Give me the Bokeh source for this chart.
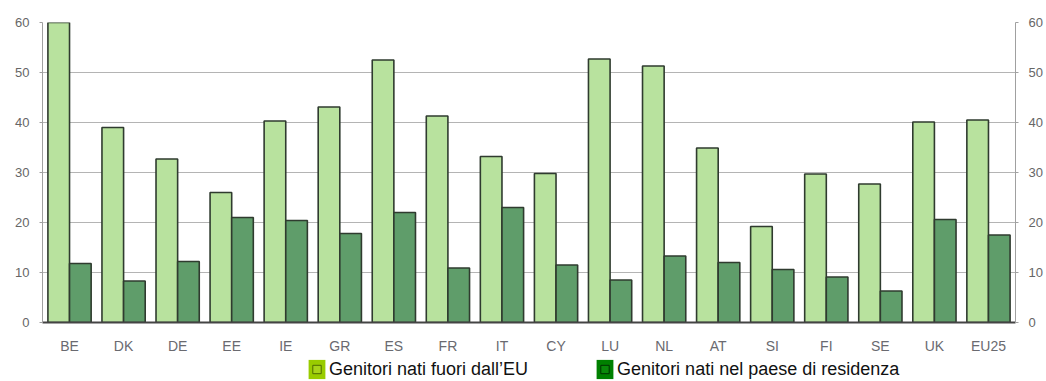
from bokeh.plotting import figure
from bokeh.layouts import column
from bokeh.models import (ColumnDataSource, FactorRange, LinearAxis, FixedTicker,
                          Legend, LegendItem, Range1d)
from bokeh.transform import dodge
from bokeh.embed import file_html
from bokeh.resources import INLINE

countries = ["BE", "DK", "DE", "EE", "IE", "GR", "ES", "FR", "IT", "CY",
             "LU", "NL", "AT", "SI", "FI", "SE", "UK", "EU25"]
fuori_eu = [60, 39, 32.7, 26, 40.3, 43.1, 52.5, 41.3, 33.2, 29.8,
            52.7, 51.3, 34.9, 19.2, 29.7, 27.7, 40.1, 40.5]
paese_res = [11.8, 8.3, 12.2, 21, 20.4, 17.8, 22, 10.9, 23, 11.5,
             8.5, 13.3, 12, 10.6, 9.1, 6.3, 20.6, 17.5]
y_ticks = [0, 10, 20, 30, 40, 50, 60]
legend_labels = ["Genitori nati fuori dall\u2019EU", "Genitori nati nel paese di residenza"]

src = ColumnDataSource(dict(country=countries, fuori=fuori_eu, paese=paese_res))

p = figure(width=1046, height=357, x_range=FactorRange(*countries),
           y_range=Range1d(0, 60), output_backend="svg", toolbar_location=None,
           min_border_left=42, min_border_right=31, min_border_top=22,
           min_border_bottom=35)
p.outline_line_color = None
p.background_fill_color = "white"
p.border_fill_color = "white"

bar_line = "#2f3b2f"
p.vbar(x=dodge("country", -0.2, range=p.x_range), top="fuori", width=0.4,
       source=src, fill_color="#b8e29e", line_color=bar_line, line_width=1.6)
p.vbar(x=dodge("country", 0.2, range=p.x_range), top="paese", width=0.4,
       source=src, fill_color="#5f9d6a", line_color=bar_line, line_width=1.6)

# axes
p.xaxis.axis_line_color = "#444444"
p.xaxis.axis_line_width = 2
p.xaxis.major_tick_line_color = None
p.xaxis.major_tick_out = 0
p.xaxis.major_label_standoff = 15
p.xaxis.major_label_text_font = "Liberation Sans"
p.xaxis.major_label_text_font_size = "14px"
p.xaxis.major_label_text_color = "#6a6a70"

p.yaxis.ticker = FixedTicker(ticks=y_ticks)
right = LinearAxis(ticker=FixedTicker(ticks=y_ticks))
p.add_layout(right, "right")
for ax in (p.yaxis[0], right):
    ax.axis_line_color = "#a0a0a0"
    ax.axis_line_width = 1
    ax.major_tick_line_color = "#a0a0a0"
    ax.major_tick_out = 3
    ax.major_tick_in = 0
    ax.minor_tick_line_color = None
    ax.major_label_standoff = 10
    ax.major_label_text_font = "Liberation Sans"
    ax.major_label_text_font_size = "13px"
    ax.major_label_text_color = "#666666"

p.xgrid.grid_line_color = None
p.ygrid.grid_line_color = "#b4b4b4"
p.ygrid.grid_line_width = 1

# legend strip below the chart (dummy renderers, placed outside the visible
# range, carry only the legend styling)
leg = figure(width=1046, height=24, output_backend="svg", toolbar_location=None,
             x_axis_location=None, y_axis_location=None,
             x_range=Range1d(0, 1), y_range=Range1d(0, 1),
             min_border_left=0, min_border_right=0, min_border_top=0,
             min_border_bottom=0)
leg.outline_line_color = None
leg.grid.grid_line_color = None
dummy = ColumnDataSource(dict(x=[-10], y=[-10]))
r1 = leg.rect(x="x", y="y", width=1, height=1, source=dummy,
              fill_color="#99cc00", line_color=None)
r1b = leg.scatter(x="x", y="y", source=dummy, marker="square",
                  fill_color="#a8d41a", line_color="#4d6b00", line_width=1, size=9)
r2 = leg.rect(x="x", y="y", width=1, height=1, source=dummy,
              fill_color="#008000", line_color=None)
r2b = leg.scatter(x="x", y="y", source=dummy, marker="square",
                  fill_color="#0a8a0a", line_color="#003300", line_width=1, size=9)

legend = Legend(items=[LegendItem(label=legend_labels[0], renderers=[r1, r1b]),
                       LegendItem(label=legend_labels[1], renderers=[r2, r2b])],
                orientation="horizontal", location=(264, 0),
                glyph_width=21, glyph_height=24, label_standoff=2, spacing=66,
                padding=0, margin=0, border_line_color=None,
                background_fill_alpha=0,
                label_text_font="Liberation Sans", label_text_font_size="18px",
                label_text_color="#111111")
leg.add_layout(legend, "center")

open("out.html", "w").write(file_html(column(p, leg, spacing=0), INLINE))
